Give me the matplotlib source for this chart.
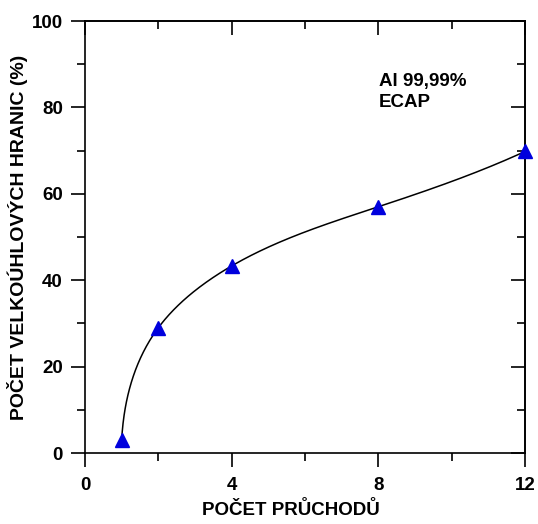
import numpy as np
import matplotlib
matplotlib.use('Agg')
import matplotlib.pyplot as plt

plt.rcParams['font.family'] = ['Liberation Sans', 'DejaVu Sans']
plt.rcParams['font.weight'] = 'bold'

# data
passes = [1, 2, 4, 8, 12]
hagb = [3.0, 29.0, 43.3, 57.0, 69.8]
x_ticks = [0, 4, 8, 12]
x_minor = [2, 6, 10]
y_ticks = [0, 20, 40, 60, 80, 100]
y_minor = [10, 30, 50, 70, 90]


def spline(t, y, tt, end='natural'):
    # cubic spline through (t, y); end = 'natural' or 'nak' (not-a-knot)
    t = np.asarray(t, float)
    y = np.asarray(y, float)
    n = len(t)
    h = np.diff(t)
    A = np.zeros((n, n))
    b = np.zeros(n)
    if end == 'natural':
        A[0, 0] = 1
        A[-1, -1] = 1
    else:
        A[0, 0], A[0, 1], A[0, 2] = h[1], -(h[0] + h[1]), h[0]
        A[-1, -3], A[-1, -2], A[-1, -1] = h[-1], -(h[-2] + h[-1]), h[-2]
    for i in range(1, n - 1):
        A[i, i - 1] = h[i - 1]
        A[i, i] = 2 * (h[i - 1] + h[i])
        A[i, i + 1] = h[i]
        b[i] = 6 * ((y[i + 1] - y[i]) / h[i] - (y[i] - y[i - 1]) / h[i - 1])
    M = np.linalg.solve(A, b)
    idx = np.clip(np.searchsorted(t, tt) - 1, 0, n - 2)
    t0, t1 = t[idx], t[idx + 1]
    hh = t1 - t0
    a = (t1 - tt) / hh
    c = (tt - t0) / hh
    return (a * y[idx] + c * y[idx + 1]
            + ((a ** 3 - a) * M[idx] + (c ** 3 - c) * M[idx + 1]) * hh ** 2 / 6)


# smooth parametric curve through the points (chord-length parameter)
xs = np.array(passes) / 12.0
ys = np.array(hagb) / 100.0
chord = np.concatenate([[0], np.cumsum(np.hypot(np.diff(xs), np.diff(ys)))])
tt = np.linspace(0, chord[-1], 400)
curve_x = 0.5 * (spline(chord, passes, tt) + spline(chord, passes, tt, 'nak'))
curve_y = 0.5 * (spline(chord, hagb, tt) + spline(chord, hagb, tt, 'nak'))

fig = plt.figure(figsize=(5.38, 5.24), dpi=100)
ax = fig.add_axes([85 / 538, 71 / 524, 440 / 538, 432 / 524])

ax.plot(curve_x, curve_y, color='black', lw=1.1, zorder=2)
ax.plot(passes, hagb, linestyle='none', marker='^', markersize=10,
        color='#0000dd', zorder=3, clip_on=False)

ax.set_xlim(0, 12)
ax.set_ylim(0, 100)
ax.set_xticks(x_ticks)
ax.set_xticks(x_minor, minor=True)
ax.set_yticks(y_ticks)
ax.set_yticks(y_minor, minor=True)

for s in ax.spines.values():
    s.set_linewidth(1.2)

ax.tick_params(which='both', width=1.2, labelsize=13.5, direction='out',
               top=False, right=False)
ax.tick_params(which='major', length=10)
ax.tick_params(which='minor', length=5.5)
ax.tick_params(axis='x', pad=7.5)
ax.tick_params(axis='y', pad=6)

# inward ticks on top and right
top = ax.secondary_xaxis('top')
top.set_xticks(x_ticks)
top.set_xticks(x_minor, minor=True)
top.tick_params(which='both', direction='in', width=1.2, labeltop=False)
top.tick_params(which='major', length=10)
top.tick_params(which='minor', length=5.5)
top.spines['top'].set_linewidth(1.2)
right = ax.secondary_yaxis('right')
right.set_yticks(y_ticks)
right.set_yticks(y_minor, minor=True)
right.tick_params(which='both', direction='in', width=1.2, labelright=False)
right.tick_params(which='major', length=10)
right.tick_params(which='minor', length=5.5)
right.spines['right'].set_linewidth(1.2)

ax.set_xlabel('POČET PRŮCHODŮ', fontsize=13.5, fontweight='bold')
ax.set_ylabel('POČET VELKOÚHLOVÝCH HRANIC (%)', fontsize=14, fontweight='bold')
ax.xaxis.set_label_coords(0.468, -0.11)
ax.yaxis.set_label_coords(-0.13, 0.5)

ax.text(8.02, 88.0, 'Al 99,99%\nECAP', fontsize=13.5, fontweight='bold',
        va='top', ha='left', linespacing=1.3)

fig.savefig('out.png', dpi=100)
